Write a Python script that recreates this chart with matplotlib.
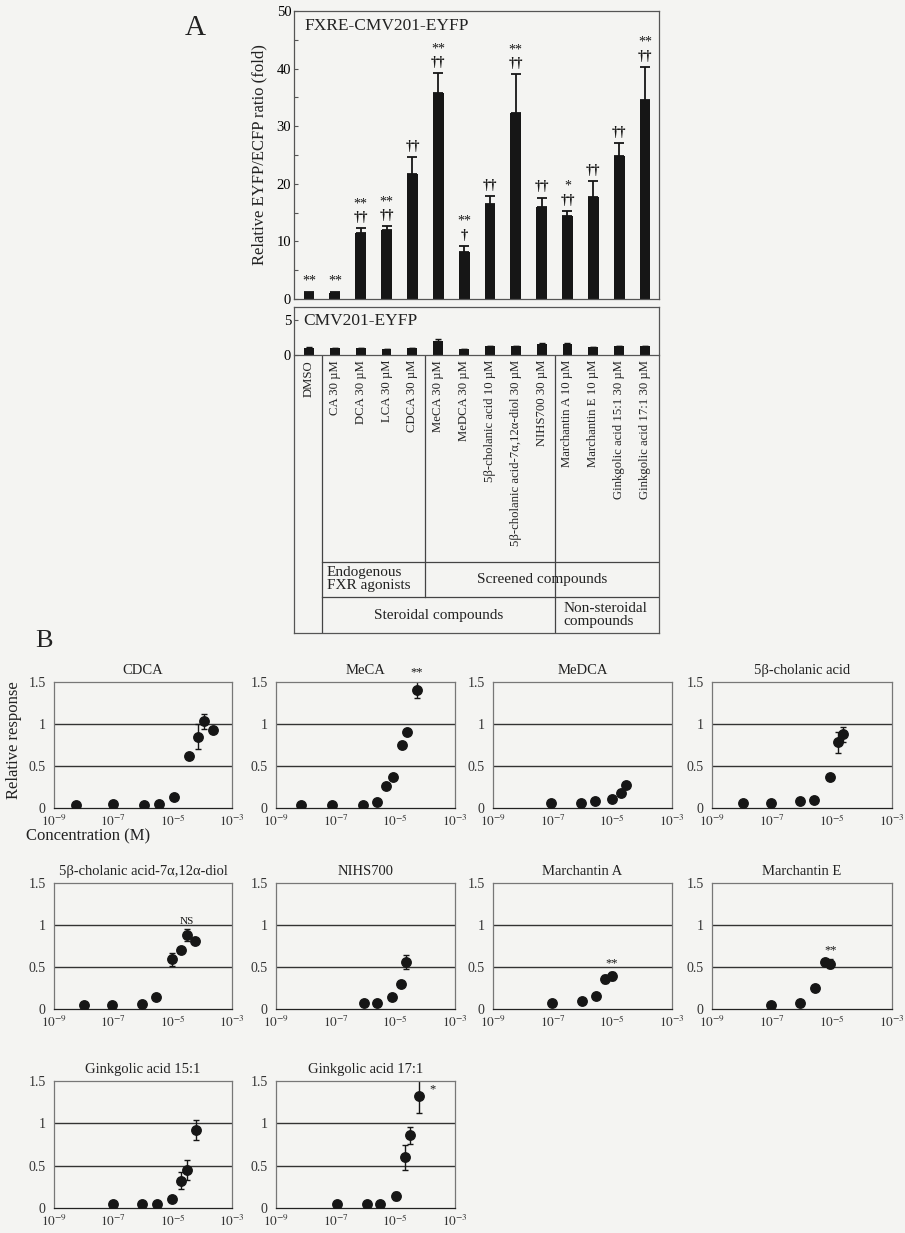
import numpy as np
import matplotlib
matplotlib.use("Agg")
import matplotlib.pyplot as plt
from matplotlib.ticker import FixedLocator, FixedFormatter, NullLocator

plt.rcParams['font.family'] = ['Liberation Serif', 'DejaVu Serif']
plt.rcParams['mathtext.fontset'] = 'stix'

# ---------------- Panel A data ----------------
compounds = ['DMSO', 'CA 30 µM', 'DCA 30 µM', 'LCA 30 µM', 'CDCA 30 µM',
             'MeCA 30 µM', 'MeDCA 30 µM', '5β-cholanic acid 10 µM',
             '5β-cholanic acid-7α,12α-diol 30 µM', 'NIHS700 30 µM',
             'Marchantin A 10 µM', 'Marchantin E 10 µM',
             'Ginkgolic acid 15:1 30 µM', 'Ginkgolic acid 17:1 30 µM']
fxre_fold = [1.0, 1.0, 11.5, 12.0, 21.7, 35.8, 8.1, 16.5, 32.3, 16.0, 14.4, 17.7, 24.9, 34.5]
fxre_err = [0.2, 0.2, 0.8, 0.6, 2.9, 3.4, 1.1, 1.3, 6.7, 1.6, 0.9, 2.7, 2.2, 5.8]
sig_vs_dmso = ['', '', '††', '††', '††', '††', '†', '††', '††', '††', '††', '††', '††', '††']
sig_vs_cdca = ['**', '**', '**', '**', '', '**', '**', '', '**', '', '*', '', '', '**']
cmv_fold = [1.1, 1.0, 1.0, 0.85, 1.0, 2.0, 0.9, 1.3, 1.3, 1.65, 1.65, 1.2, 1.3, 1.3]
cmv_err = [0.15, 0.05, 0.05, 0.05, 0.1, 0.3, 0.05, 0.1, 0.1, 0.1, 0.1, 0.05, 0.1, 0.1]

# ---------------- Panel B data (log10 of molar concentration) ----------------
curve_names = ['CDCA', 'MeCA', 'MeDCA', '5β-cholanic acid',
               '5β-cholanic acid-7α,12α-diol', 'NIHS700', 'Marchantin A', 'Marchantin E',
               'Ginkgolic acid 15:1', 'Ginkgolic acid 17:1']
cdca_logc = [-8.25, -7.0, -5.95, -5.45, -4.95, -4.45, -4.15, -3.95, -3.65]
cdca_resp = [0.04, 0.05, 0.04, 0.05, 0.13, 0.62, 0.85, 1.03, 0.93]
cdca_err = [0, 0, 0, 0, 0, 0.03, 0.15, 0.09, 0.04]
meca_logc = [-8.15, -7.13, -6.09, -5.62, -5.32, -5.09, -4.79, -4.62, -4.27]
meca_resp = [0.03, 0.03, 0.04, 0.07, 0.26, 0.37, 0.75, 0.91, 1.41]
meca_err = [0, 0, 0, 0, 0, 0, 0.03, 0.03, 0.10]
medca_logc = [-7.05, -6.04, -5.58, -5.02, -4.71, -4.54]
medca_resp = [0.06, 0.06, 0.08, 0.11, 0.18, 0.27]
medca_err = [0, 0, 0, 0, 0.03, 0.03]
chol_logc = [-7.96, -7.02, -6.06, -5.61, -5.07, -4.79, -4.62]
chol_resp = [0.06, 0.06, 0.08, 0.09, 0.37, 0.78, 0.88]
chol_err = [0, 0, 0, 0, 0, 0.13, 0.09]
diol_logc = [-8.0, -7.03, -6.03, -5.56, -5.03, -4.72, -4.53, -4.26]
diol_resp = [0.05, 0.05, 0.06, 0.14, 0.59, 0.70, 0.88, 0.81]
diol_err = [0, 0, 0, 0, 0.08, 0.02, 0.07, 0.03]
nihs_logc = [-6.05, -5.61, -5.10, -4.80, -4.63]
nihs_resp = [0.07, 0.07, 0.14, 0.30, 0.56]
nihs_err = [0, 0, 0, 0.02, 0.08]
mara_logc = [-7.01, -6.02, -5.55, -5.24, -5.01]
mara_resp = [0.07, 0.10, 0.15, 0.36, 0.39]
mara_err = [0, 0, 0, 0.05, 0.05]
mare_logc = [-7.02, -6.06, -5.58, -5.25, -5.06]
mare_resp = [0.05, 0.07, 0.25, 0.56, 0.54]
mare_err = [0, 0, 0, 0.03, 0.05]
g15_logc = [-7.02, -6.02, -5.53, -5.03, -4.72, -4.53, -4.22]
g15_resp = [0.05, 0.05, 0.05, 0.11, 0.32, 0.45, 0.92]
g15_err = [0, 0, 0, 0, 0.10, 0.12, 0.12]
g17_logc = [-6.97, -5.95, -5.50, -4.99, -4.69, -4.52, -4.19]
g17_resp = [0.05, 0.05, 0.05, 0.14, 0.60, 0.86, 1.32]
g17_err = [0, 0, 0, 0.05, 0.15, 0.10, 0.20]
curve_marks = ['', '**', '', '', 'NS', '', '**', '**', '', '*']

curves = [(cdca_logc, cdca_resp, cdca_err), (meca_logc, meca_resp, meca_err),
          (medca_logc, medca_resp, medca_err), (chol_logc, chol_resp, chol_err),
          (diol_logc, diol_resp, diol_err), (nihs_logc, nihs_resp, nihs_err),
          (mara_logc, mara_resp, mara_err), (mare_logc, mare_resp, mare_err),
          (g15_logc, g15_resp, g15_err), (g17_logc, g17_resp, g17_err)]

# ---------------- figure ----------------
W, H = 905, 1233
BG = '#f4f4f2'
INK = '#161616'
fig = plt.figure(figsize=(W / 100, H / 100), dpi=100, facecolor=BG)


def box(x0, y0, x1, y1):
    ax = fig.add_axes([x0 / W, 1 - y1 / H, (x1 - x0) / W, (y1 - y0) / H])
    ax.set_facecolor('none')
    return ax


idx = np.arange(len(compounds))
XL = (-0.58, 13.54)

# top: FXRE reporter
axA = box(294, 11, 659, 299)
axA.bar(idx, fxre_fold, width=0.42, color=INK,
        yerr=[np.zeros(len(idx)), fxre_err], capsize=3.5,
        error_kw=dict(ecolor=INK, elinewidth=1.3, capthick=1.3))
axA.set_xlim(*XL)
axA.set_ylim(0, 50)
axA.set_xticks([])
axA.yaxis.set_major_locator(FixedLocator([0, 10, 20, 30, 40, 50]))
axA.yaxis.set_minor_locator(FixedLocator([5, 15, 25, 35, 45]))
axA.tick_params(axis='y', which='both', direction='in', length=3, width=0.8,
                labelsize=10.5, pad=2, color='#555')
for s in axA.spines.values():
    s.set_color('#555')
    s.set_linewidth(0.9)
axA.text(0.03, 0.975, 'FXRE-CMV201-EYFP', transform=axA.transAxes,
         ha='left', va='top', fontsize=12.5, color='#222')
for i, (m, e) in enumerate(zip(fxre_fold, fxre_err)):
    top = m + e
    off = 3
    if sig_vs_dmso[i]:
        axA.annotate(sig_vs_dmso[i], (i, top), xytext=(0, off), textcoords='offset points',
                     ha='center', va='bottom', fontsize=10.5, color=INK, fontweight='bold')
        off += 10
    if sig_vs_cdca[i]:
        axA.annotate(sig_vs_cdca[i], (i, top), xytext=(0, off), textcoords='offset points',
                     ha='center', va='bottom', fontsize=10, color=INK)
fig.text(259 / W, 1 - 155 / H, 'Relative EYFP/ECFP ratio (fold)', rotation=90,
         ha='center', va='center', fontsize=12, color='#222')

# middle: CMV control reporter
axC = box(294, 307, 659, 355.5)
axC.bar(idx, cmv_fold, width=0.38, color=INK,
        yerr=[np.zeros(len(idx)), cmv_err], capsize=2,
        error_kw=dict(ecolor=INK, elinewidth=1, capthick=1))
axC.set_xlim(*XL)
axC.set_ylim(0, 6.8)
axC.set_xticks([])
axC.set_yticks([0, 5])
axC.tick_params(axis='y', direction='in', length=3, width=0.8, labelsize=10.5, pad=2, color='#555')
for s in axC.spines.values():
    s.set_color('#555')
    s.set_linewidth(0.9)
axC.text(0.025, 0.88, 'CMV201-EYFP', transform=axC.transAxes,
         ha='left', va='top', fontsize=12.5, color='#222')

# compound label table
axT = box(294, 355.5, 659, 633)
axT.set_xlim(*XL)
axT.set_ylim(633, 355.5)
axT.set_xticks([])
axT.set_yticks([])
axT.spines['top'].set_visible(False)
for s in ['left', 'right', 'bottom']:
    axT.spines[s].set_color('#555')
    axT.spines[s].set_linewidth(0.9)
lc = '#444'
axT.plot([0.5, 0.5], [355.5, 633], color=lc, lw=0.9)
axT.plot([4.5, 4.5], [355.5, 596.7], color=lc, lw=0.9)
axT.plot([9.5, 9.5], [355.5, 633], color=lc, lw=0.9)
axT.plot([0.5, XL[1]], [561.7, 561.7], color=lc, lw=0.9)
axT.plot([0.5, XL[1]], [596.7, 596.7], color=lc, lw=0.9)
for i, name in enumerate(compounds):
    axT.text(i, 360, name, rotation=90, ha='center', va='top', fontsize=9.2, color='#222')
axT.text(0.68, 579, 'Endogenous\nFXR agonists', ha='left', va='center',
         fontsize=11, linespacing=1.0, color='#222')
axT.text((4.5 + XL[1]) / 2, 579, 'Screened compounds', ha='center', va='center',
         fontsize=11, color='#222')
axT.text(5.0, 615, 'Steroidal compounds', ha='center', va='center', fontsize=11, color='#222')
axT.text(9.83, 615, 'Non-steroidal\ncompounds', ha='left', va='center',
         fontsize=11, linespacing=1.0, color='#222')

fig.text(195 / W, 1 - 28 / H, 'A', ha='center', va='center', fontsize=21, color='#222')
fig.text(44 / W, 1 - 641 / H, 'B', ha='center', va='center', fontsize=19, color='#222')

# ---------------- Panel B: concentration-response curves ----------------
cols = [(54, 232), (276, 455), (493, 672), (712, 892)]
rows = [(682, 808), (883, 1009), (1081, 1208)]
xtick_pos = [-9, -7, -5, -3]
xtick_lab = [r'$10^{-9}$', r'$10^{-7}$', r'$10^{-5}$', r'$10^{-3}$']

for k, (name, (lc_, rs, er)) in enumerate(zip(curve_names, curves)):
    r, c = divmod(k, 4)
    x0, x1 = cols[c]
    y0, y1 = rows[r]
    ax = box(x0, y0, x1, y1)
    ax.set_xlim(-9, -3)
    ax.set_ylim(0, 1.5)
    for g in (0.5, 1.0):
        ax.axhline(g, color='#333', lw=1.0, zorder=1)
    er_arr = np.array(er, dtype=float)
    ax.errorbar(lc_, rs, yerr=np.where(er_arr > 0, er_arr, np.nan), fmt='none',
                ecolor=INK, elinewidth=1.0, capsize=2.5, capthick=1.0, zorder=2)
    ax.plot(lc_, rs, 'o', color=INK, ms=6.8, zorder=3)
    mark = curve_marks[k]
    if mark:
        if mark == '*':
            ax.annotate(mark, (lc_[-1], rs[-1]), xytext=(7, 5), textcoords='offset points',
                        ha='left', va='center', fontsize=9, color=INK, annotation_clip=False)
        else:
            j = int(np.argmax(rs)) if mark == 'NS' else len(rs) - 1
            top = rs[j] + er[j]
            ax.annotate(mark, (lc_[j], top), xytext=(0, 2), textcoords='offset points',
                        ha='center', va='bottom', fontsize=8 if mark == 'NS' else 9,
                        color=INK, annotation_clip=False)
    ax.xaxis.set_major_locator(FixedLocator(xtick_pos))
    ax.xaxis.set_major_formatter(FixedFormatter(xtick_lab))
    ax.xaxis.set_minor_locator(NullLocator())
    ax.yaxis.set_major_locator(FixedLocator([0, 0.5, 1, 1.5]))
    ax.yaxis.set_major_formatter(FixedFormatter(['0', '0.5', '1', '1.5']))
    ax.tick_params(axis='both', length=0, labelsize=10, colors='#333')
    ax.tick_params(axis='x', pad=4, labelsize=9.5)
    ax.tick_params(axis='y', pad=6)
    for s in ax.spines.values():
        s.set_color('#777')
        s.set_linewidth(0.9)
    ax.spines['bottom'].set_color('#222')
    ax.set_title(name, fontsize=10.5, pad=6, color='#222')

fig.text(14 / W, 1 - 740 / H, 'Relative response', rotation=90, ha='center', va='center',
         fontsize=12, color='#222')
fig.text(88 / W, 1 - 836 / H, 'Concentration (M)', ha='center', va='center',
         fontsize=12, color='#222')

fig.savefig('out.png', dpi=100, facecolor=BG)
